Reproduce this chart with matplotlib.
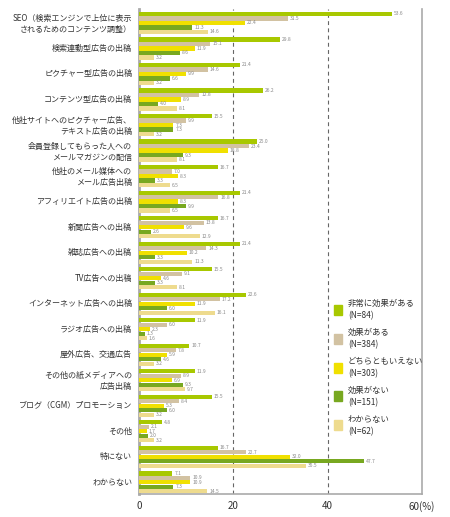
import matplotlib
matplotlib.use("Agg")
import matplotlib.pyplot as plt
from matplotlib.patches import Rectangle
import numpy as np

plt.rcParams['font.family'] = ['Noto Sans CJK JP', 'DejaVu Sans']

categories = [
    "SEO（検索エンジンで上位に表示\nされるためのコンテンツ調整）",
    "検索連動型広告の出稿",
    "ピクチャー型広告の出稿",
    "コンテンツ型広告の出稿",
    "他社サイトへのピクチャー広告、\nテキスト広告の出稿",
    "会員登録してもらった人への\nメールマガジンの配信",
    "他社のメール媒体への\nメール広告出稿",
    "アフィリエイト広告の出稿",
    "新聞広告への出稿",
    "雑誌広告への出稿",
    "TV広告への出稿",
    "インターネット広告への出稿",
    "ラジオ広告への出稿",
    "屋外広告、交通広告",
    "その他の紙メディアへの\n広告出稿",
    "ブログ（CGM）プロモーション",
    "その他",
    "特にない",
    "わからない",
]

series_names = [
    "非常に効果がある\n(N=84)",
    "効果がある\n(N=384)",
    "どちらともいえない\n(N=303)",
    "効果がない\n(N=151)",
    "わからない\n(N=62)",
]

very_effective = [53.6, 29.8, 21.4, 26.2, 15.5, 25.0, 16.7, 21.4, 16.7, 21.4, 15.5, 22.6, 11.9, 10.7, 11.9, 15.5, 4.8, 16.7, 7.1]
effective      = [31.5, 15.1, 14.6, 12.8, 9.9, 23.4, 7.0, 16.8, 13.8, 14.3, 9.1, 17.2, 6.0, 7.8, 8.9, 8.4, 2.1, 22.7, 10.9]
neutral        = [22.4, 11.9, 9.9, 8.9, 7.3, 18.8, 8.3, 8.3, 9.6, 10.2, 4.6, 11.9, 2.3, 5.9, 6.9, 5.3, 1.7, 32.0, 10.9]
not_effective  = [11.3, 8.6, 6.6, 4.0, 7.3, 9.3, 3.3, 9.9, 2.6, 3.3, 3.3, 6.0, 1.3, 4.6, 9.3, 6.0, 2.0, 47.7, 7.3]
unknown        = [14.6, 3.2, 3.2, 8.1, 3.2, 8.1, 6.5, 6.5, 12.9, 11.3, 8.1, 16.1, 1.6, 3.2, 9.7, 3.2, 3.2, 35.5, 14.5]

xticks = [0, 20, 40, 60]
xtick_labels = ["0", "20", "40", "60(%)"]

series = [very_effective, effective, neutral, not_effective, unknown]
colors = ["#a8c800", "#d2c2a2", "#f0e000", "#78a820", "#eedb8e"]

fig = plt.figure(figsize=(4.5, 5.17), dpi=100)
ax = fig.add_axes([139/450, 1-494/517, (422-139)/450, (494-9)/517])

n = len(categories)
y = np.arange(n)
pitch = 0.176
h = 0.165
for j, (vals, c) in enumerate(zip(series, colors)):
    ys = y + (j - 2) * pitch + 0.045
    ax.barh(ys, vals, height=h, color=c, edgecolor='none', zorder=3)
    for yy, v in zip(ys, vals):
        ax.text(v + 0.4, yy, f"{v:.1f}", fontsize=3.6, color="#8a8a8a",
                va='center', ha='left', zorder=4)

ax.set_ylim(n - 0.5, -0.5)
ax.set_xlim(0, 60)
ax.set_yticks(y)
ax.set_yticklabels(categories, fontsize=5.8, color="#333333", linespacing=1.3)
ax.set_xticks(xticks)
ax.set_xticklabels(xtick_labels, fontsize=7, color="#333333")
ax.tick_params(axis='both', length=0)
ax.tick_params(axis='y', pad=5)
ax.tick_params(axis='x', pad=5)

for xv in [20, 40]:
    ax.axvline(xv, color="#666666", lw=0.8, ls=(0, (3.5, 3)), zorder=2)

for s in ['top']:
    ax.spines[s].set_visible(False)
ax.spines['left'].set_color("#aaaaaa")
ax.spines['left'].set_linewidth(2)
ax.spines['bottom'].set_color("#aaaaaa")
ax.spines['bottom'].set_linewidth(1.2)
ax.spines['right'].set_color("#aaaaaa")
ax.spines['right'].set_linewidth(1.2)

# legend
leg_y0 = 310
leg_step = 28.8
for j, (name, c) in enumerate(zip(series_names, colors)):
    yc = leg_y0 + j * leg_step
    fig.patches.append(Rectangle((334/450, 1 - (yc + 5)/517), 8/450, 10/517,
                                 transform=fig.transFigure, color=c, zorder=5))
    fig.text(348/450, 1 - yc/517, name, fontsize=6, color="#333333",
             va='center', ha='left', linespacing=1.45, zorder=6)

fig.savefig("out.png", dpi=100)
